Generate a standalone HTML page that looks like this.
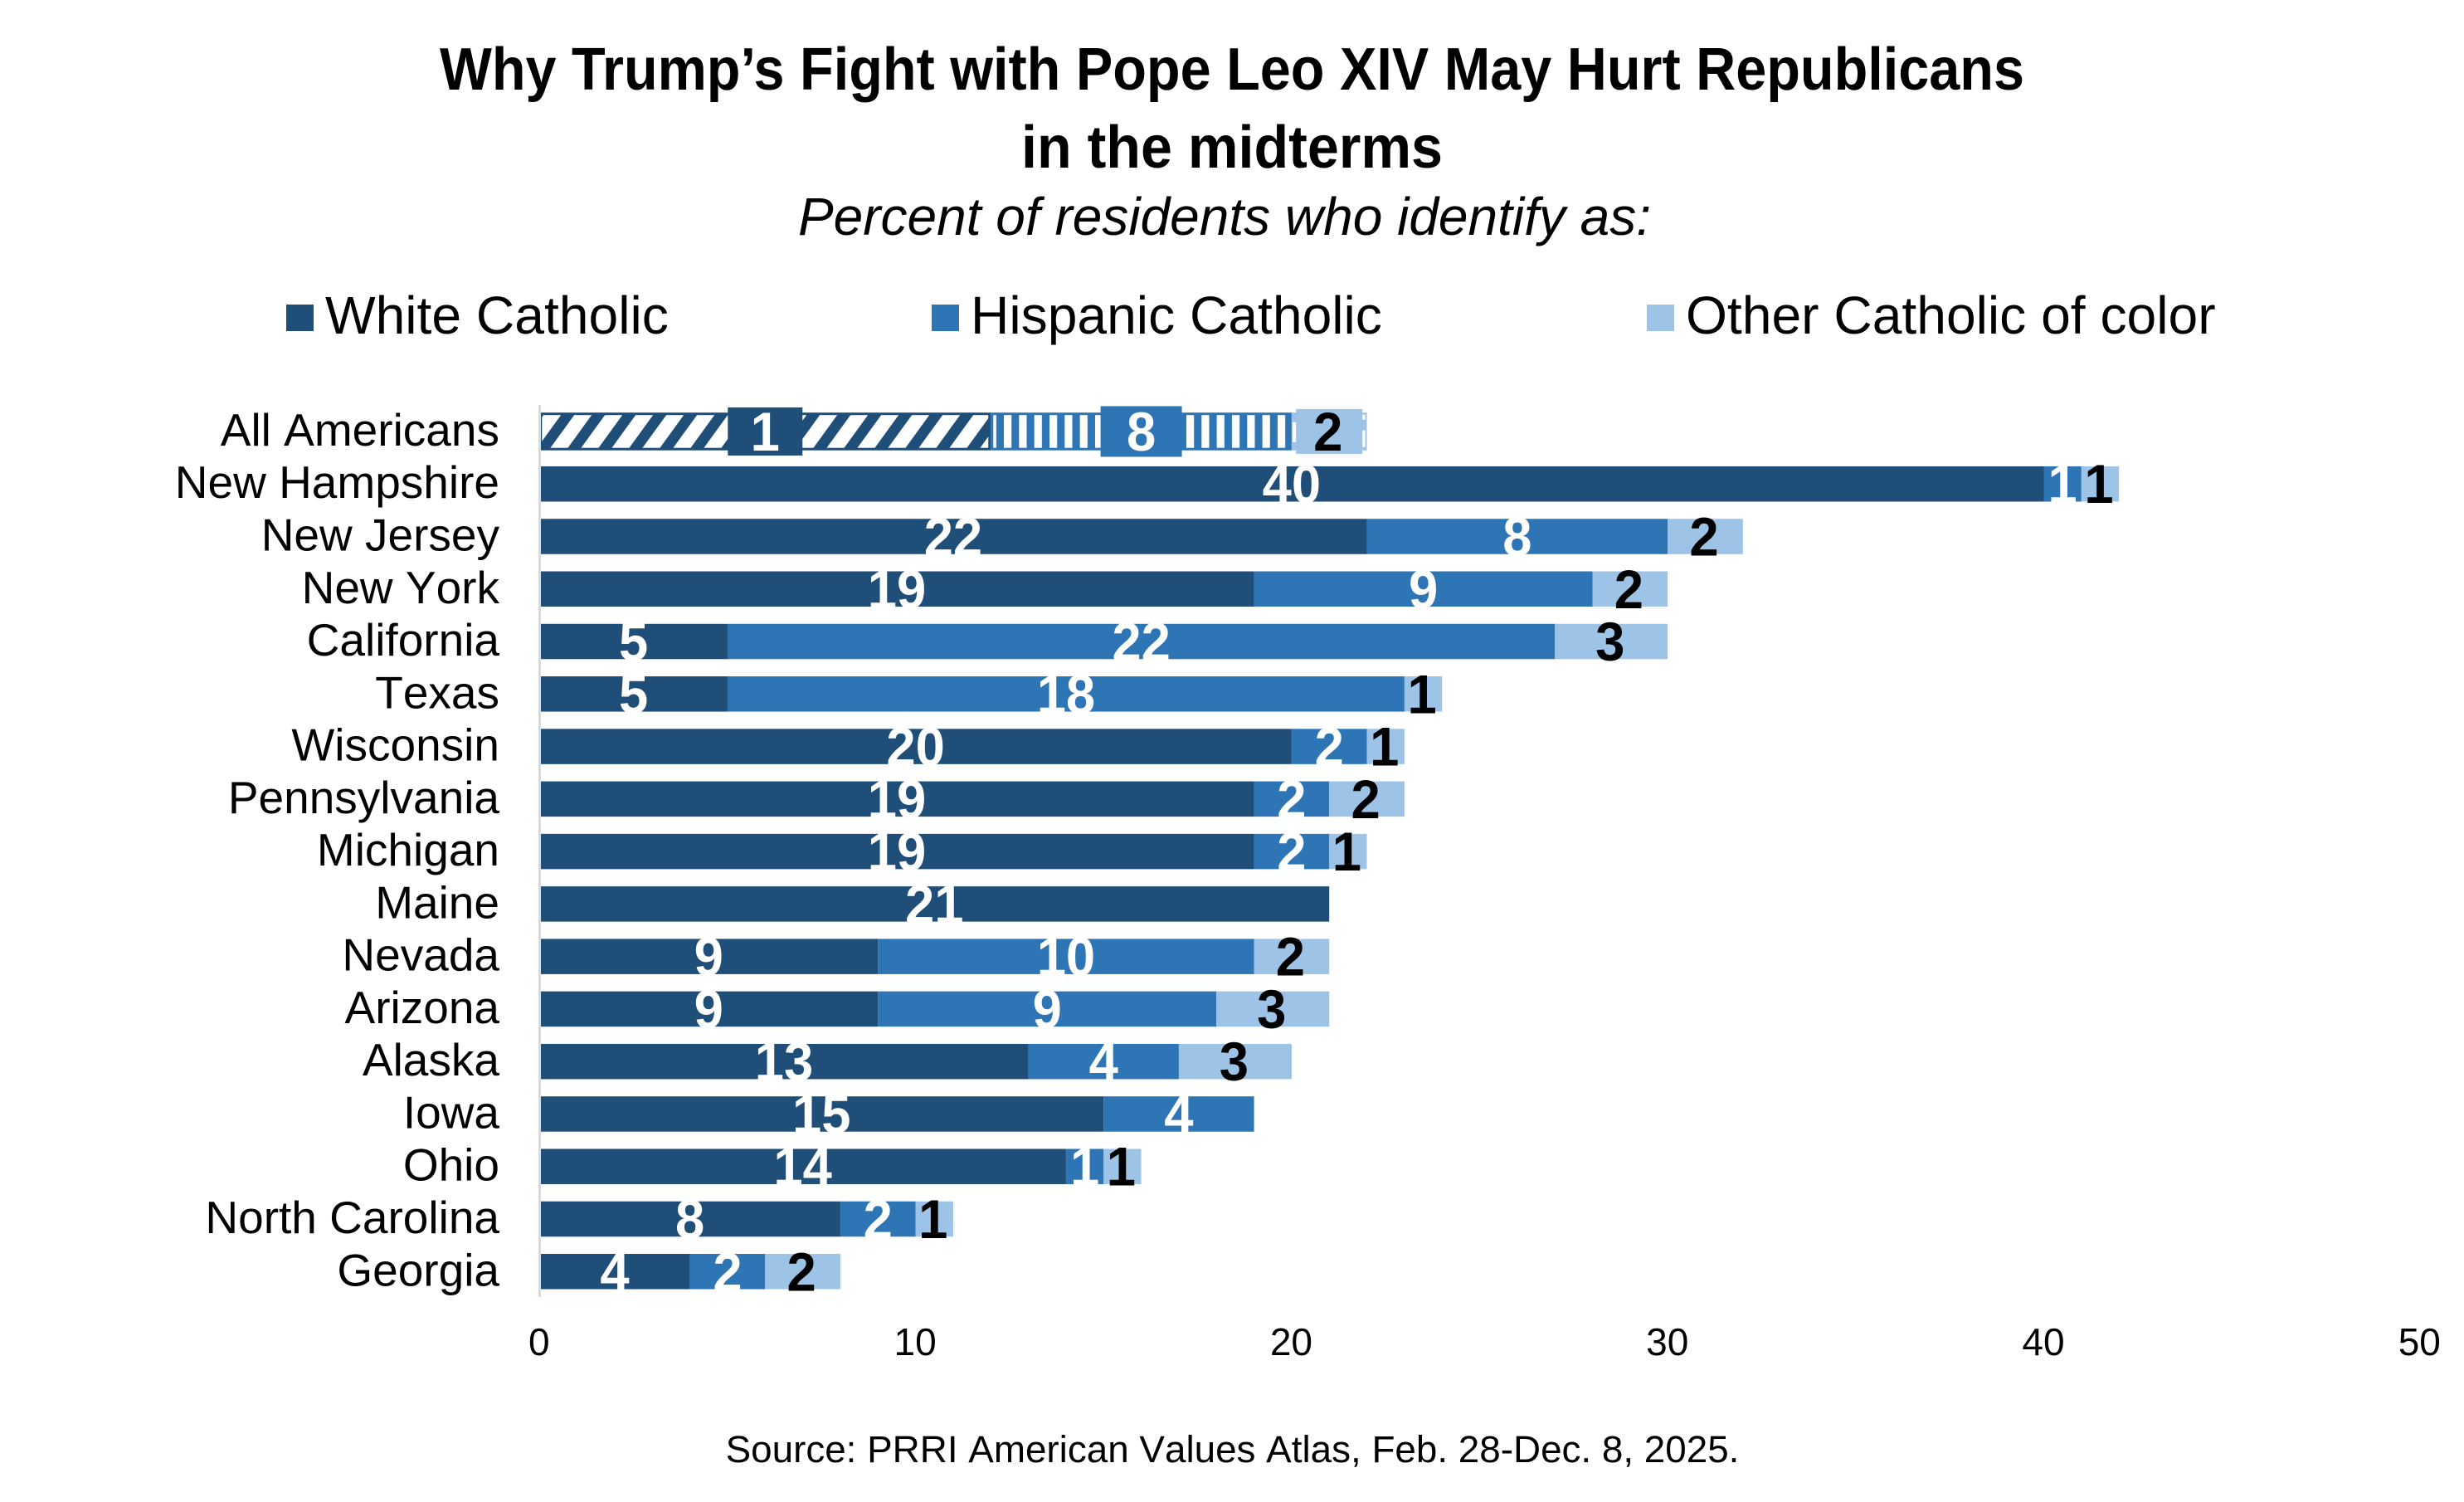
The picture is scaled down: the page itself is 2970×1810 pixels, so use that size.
<!DOCTYPE html>
<html lang="en">
<head>
<meta charset="utf-8">
<title>Why Trump's Fight with Pope Leo XIV May Hurt Republicans</title>
<style>
  html, body { margin: 0; padding: 0; background: #ffffff; }
  svg { display: block; font-family: "Liberation Sans", Arial, sans-serif; }
  .nokern { font-kerning: none; }
</style>
</head>
<body>
<svg id="chart" xmlns="http://www.w3.org/2000/svg" width="2970" height="1810" viewBox="0 0 2970 1810">
  <defs>
    <pattern id="hatch-dark" x="870" y="499" width="37" height="51" patternUnits="userSpaceOnUse">
      <rect x="0" y="0" width="37" height="51" fill="#ffffff"/>
      <polygon points="-8,51 29,0 45,0 8,51" fill="#1f4e79"/>
      <polygon points="-45,51 -8,0 8,0 -29,51" fill="#1f4e79"/>
      <polygon points="29,51 66,0 82,0 45,51" fill="#1f4e79"/>
    </pattern>
    <pattern id="stripes-medium" x="1210" y="0" width="18.33" height="20" patternUnits="userSpaceOnUse">
      <rect x="0" y="0" width="18.33" height="20" fill="#2e75b6"/>
      <rect x="0" y="0" width="9.2" height="20" fill="#ffffff"/>
    </pattern>
  </defs>
  <rect x="0" y="0" width="2970" height="1810" fill="#ffffff"/>

  <text x="1485" y="108" text-anchor="middle" font-size="72" font-weight="700" textLength="1910" lengthAdjust="spacingAndGlyphs">Why Trump’s Fight with Pope Leo XIV May Hurt Republicans</text>
  <text x="1485" y="202" text-anchor="middle" font-size="72" font-weight="700" textLength="508" lengthAdjust="spacingAndGlyphs">in the midterms</text>
  <text x="1476" y="283" text-anchor="middle" font-size="64" font-style="italic">Percent of residents who identify as:</text>

  <g font-size="64.2">
    <g>
      <rect x="345" y="367" width="33" height="32" fill="#1f4e79"/>
      <text x="392" y="402">White Catholic</text>
    </g>
    <g>
      <rect x="1123" y="367" width="33" height="32" fill="#2e75b6"/>
      <text x="1170" y="402">Hispanic Catholic</text>
    </g>
    <g>
      <rect x="1985" y="367" width="33" height="32" fill="#9dc3e6"/>
      <text x="2032" y="402">Other Catholic of color</text>
    </g>
  </g>

  <g id="bars"></g>
  <line x1="650.5" y1="488" x2="650.5" y2="1563" stroke="#d9d9d9" stroke-width="3"/>
  <g id="labels"></g>
  <g id="categories" class="nokern"></g>
  <g id="ticks"></g>

  <text class="nokern" x="1485.5" y="1762" text-anchor="middle" font-size="45.8">Source: PRRI American Values Atlas, Feb. 28-Dec. 8, 2025.</text>
</svg>

<script>
const categories = ["All Americans", "New Hampshire", "New Jersey", "New York", "California", "Texas", "Wisconsin", "Pennsylvania", "Michigan", "Maine", "Nevada", "Arizona", "Alaska", "Iowa", "Ohio", "North Carolina", "Georgia"];
const whiteCatholic = [12, 40, 22, 19, 5, 5, 20, 19, 19, 21, 9, 9, 13, 15, 14, 8, 4];
const hispanicCatholic = [8, 1, 8, 9, 22, 18, 2, 2, 2, 0, 10, 9, 4, 4, 1, 2, 2];
const otherCatholic = [2, 1, 2, 2, 3, 1, 1, 2, 1, 0, 2, 3, 3, 0, 1, 1, 2];
const whiteLabels = ["1", "40", "22", "19", "5", "5", "20", "19", "19", "21", "9", "9", "13", "15", "14", "8", "4"];
const hispanicLabels = ["8", "1", "8", "9", "22", "18", "2", "2", "2", "", "10", "9", "4", "4", "1", "2", "2"];
const otherLabels = ["2", "1", "2", "2", "3", "1", "1", "2", "1", "", "2", "3", "3", "", "1", "1", "2"];
const xTicks = [0, 10, 20, 30, 40, 50];

const SVG_NS = "http://www.w3.org/2000/svg";
const xScale = function (v) { return 650.3 + v * 45.33; };
const rowTop = function (i) { return 487.7 + i * 63.27; };
const BAR_INSET = 11;
const BAR_HEIGHT = 42.5;

const seriesColors = ["#1f4e79", "#2e75b6", "#9dc3e6"];
const seriesText = ["#ffffff", "#ffffff", "#000000"];
const seriesShift = [0, 0, -1.5];
const seriesSlug = ["white-catholic", "hispanic-catholic", "other-catholic-of-color"];
const boxWidth = [90, 98, 80];
const boxHeight = [58, 61, 54];
const allSeries = [whiteCatholic, hispanicCatholic, otherCatholic];
const allLabels = [whiteLabels, hispanicLabels, otherLabels];

function slug(s) { return s.toLowerCase().replace(/\s+/g, "-"); }

function make(tag, attrs, parent) {
  const el = document.createElementNS(SVG_NS, tag);
  Object.keys(attrs).forEach(function (k) { el.setAttribute(k, attrs[k]); });
  parent.appendChild(el);
  return el;
}

const barsG = document.getElementById("bars");
const labelsG = document.getElementById("labels");
const catG = document.getElementById("categories");
const ticksG = document.getElementById("ticks");

categories.forEach(function (cat, i) {
  const top = rowTop(i) + BAR_INSET;
  const mid = top + BAR_HEIGHT / 2;

  const catLabel = make("text", { x: 602, y: mid + 17, "text-anchor": "end", "font-size": 55 }, catG);
  catLabel.textContent = cat;
  
  

  let cum = 0;
  allSeries.forEach(function (series, s) {
    const v = series[i];
    if (v <= 0) { return; }
    const x0 = xScale(cum);
    const x1 = xScale(cum + v);
    cum += v;

    let seg;
    if (i === 0 && s === 0) {
      seg = make("rect", { x: x0 + 1.5, y: top, width: x1 - x0 - 3, height: BAR_HEIGHT, fill: "url(#hatch-dark)", stroke: seriesColors[s], "stroke-width": 3 }, barsG);
    } else if (i === 0 && s === 1) {
      seg = make("rect", { x: x0 + 1.5, y: top, width: x1 - x0 - 3, height: BAR_HEIGHT, fill: "url(#stripes-medium)", stroke: seriesColors[s], "stroke-width": 3 }, barsG);
    } else if (i === 0) {
      seg = make("rect", { x: x0, y: top - 1.5, width: x1 - x0, height: BAR_HEIGHT + 3, fill: seriesColors[s] }, barsG);
      const d1 = make("rect", { x: x0 + 1, y: top + 10, width: 5, height: 24, fill: "#ffffff" }, barsG);
      
      
      const d2 = make("rect", { x: x1 - 7, y: top + 1, width: 5, height: 6, fill: "#ffffff" }, barsG);
      
      
      const d3 = make("rect", { x: x1 - 7, y: top + 20, width: 5, height: 20, fill: "#ffffff" }, barsG);
      
      
    } else {
      seg = make("rect", { x: x0, y: top, width: x1 - x0, height: BAR_HEIGHT, fill: seriesColors[s] }, barsG);
    }
    
    

    const cx = (x0 + x1) / 2;
    const printed = allLabels[s][i];
    if (i === 0) {
      const box = make("rect", { x: cx - boxWidth[s] / 2, y: mid - boxHeight[s] / 2, width: boxWidth[s], height: boxHeight[s], fill: seriesColors[s] }, labelsG);
      
      
    }
    if (printed !== "") {
      const tx = cx + seriesShift[s];
      const ty = mid + 23;
      const t = make("text", { x: 0, y: 0, transform: "translate(" + tx + " " + ty + ") scale(0.96 1)", "text-anchor": "middle", "font-size": 66, "font-weight": 700, fill: seriesText[s] }, labelsG);
      t.textContent = printed;
      
      
    }
  });
});

xTicks.forEach(function (tick) {
  const t = make("text", { x: xScale(tick) - 0.5, y: 1633, "text-anchor": "middle", "font-size": 46 }, ticksG);
  t.textContent = String(tick);
  
  
});
</script>
</body>
</html>
